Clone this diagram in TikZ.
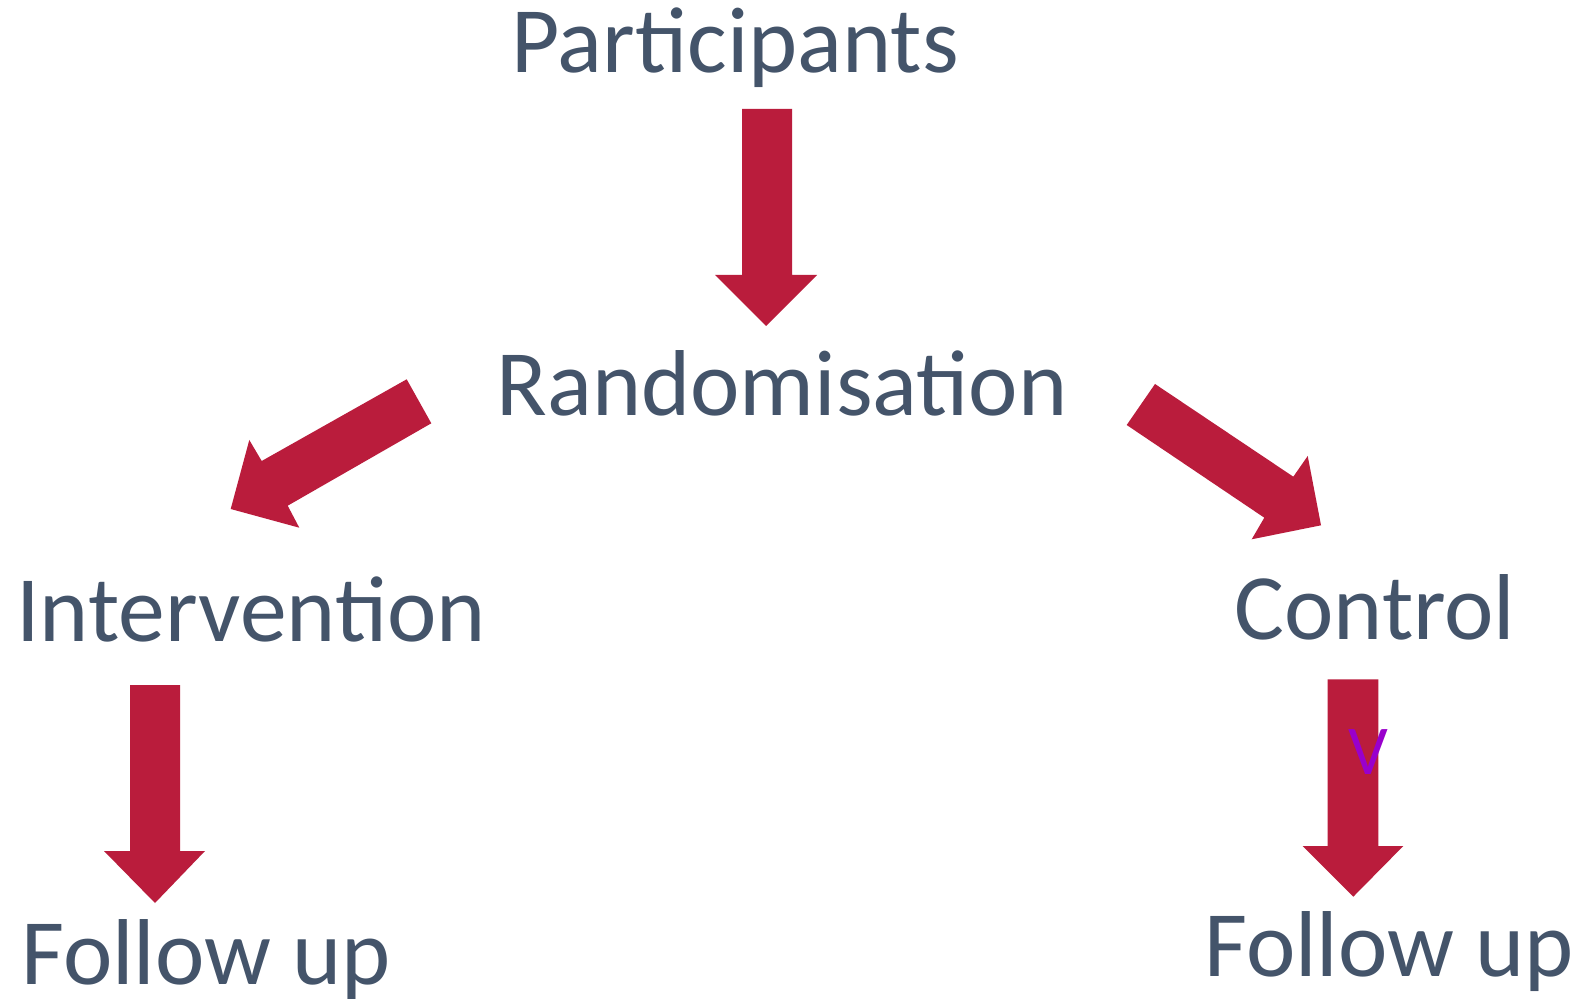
\documentclass[tikz,border=0pt]{standalone}
\usepackage{fontspec}
\setmainfont{Carlito}
\definecolor{txt}{HTML}{44546A}
\definecolor{arr}{HTML}{BA1C3C}
\definecolor{vio}{HTML}{9900CC}
\begin{document}
\begin{tikzpicture}[x=0.5pt,y=-0.5pt,
  lbl/.style={inner sep=0pt,anchor=base,text=txt,font=\fontsize{46.8}{50}\selectfont},
  blockarrow/.style={fill=arr,draw=none}]
\useasboundingbox (0,0) rectangle (1578,999);
\fill[white] (0,0) rectangle (1578,999);
% labels
\node[lbl] (part) at (735,72.5) {Participants};
\node[lbl] (rand) at (782,415.6) {Randomisation};
\node[lbl] (int)  at (251,641) {Intervention};
\node[lbl] (ctrl) at (1375,639) {Control};
\node[lbl] (fu1)  at (206,984) {Follow up};
\node[lbl] (fu2)  at (1389,976) {Follow up};
% arrows
\fill[blockarrow] (742,109) -- (792,109) -- (792,275) -- (817,275) -- (766,326) -- (715,275) -- (742,275) -- cycle;
\fill[blockarrow] (406.7,379.3) -- (431.3,423.3) -- (287.7,505.7) -- (299.3,527.7) -- (230.7,509) -- (249.3,440) -- (261.7,461) -- cycle;
\fill[blockarrow] (1155,384) -- (1126.7,425) -- (1264.3,517.7) -- (1251.7,539.3) -- (1321,525.3) -- (1307.7,456) -- (1293.3,476.7) -- cycle;
\fill[blockarrow] (130,685) -- (180,685) -- (180,851) -- (205,851) -- (155,903) -- (104,851) -- (130,851) -- cycle;
\fill[blockarrow] (1327.7,679.3) -- (1378.3,679.3) -- (1378.3,846) -- (1403.3,846) -- (1353.3,896.7) -- (1302.7,846) -- (1327.7,846) -- cycle;
\node[inner sep=0pt,anchor=base,text=vio,font=\fontsize{35}{36}\selectfont] (v) at (1368,774) {V};
\end{tikzpicture}
\end{document}
